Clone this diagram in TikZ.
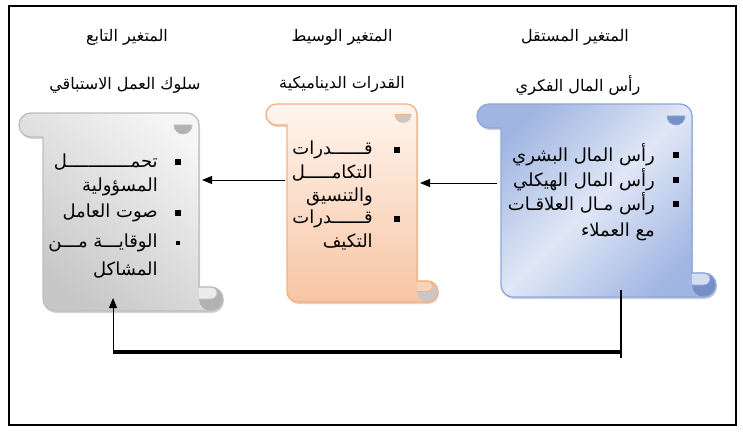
\documentclass[tikz,border=0pt]{standalone}
\usepackage{fontspec}
\usepackage{tikz}
\usetikzlibrary{arrows.meta}
\newfontfamily\arabicfont[Script=Arabic]{DejaVu Sans}
\TeXXeTstate=1

\definecolor{blline}{RGB}{143,168,218}
\definecolor{blcurl}{RGB}{118,143,198}
\definecolor{blnotch}{RGB}{212,222,242}
\definecolor{bldark}{RGB}{160,181,226}
\definecolor{bllight}{RGB}{224,231,246}
\definecolor{orline}{RGB}{244,177,131}
\definecolor{orcurl}{RGB}{200,200,200}
\definecolor{ornotch}{RGB}{248,211,185}
\definecolor{ortop}{RGB}{255,245,239}
\definecolor{orbot}{RGB}{247,197,163}
\definecolor{grline}{RGB}{190,190,190}
\definecolor{grcurl}{RGB}{178,178,178}
\definecolor{grnotch}{RGB}{236,236,236}
\definecolor{grdark}{RGB}{198,198,198}
\definecolor{grlight}{RGB}{246,246,246}

\tikzset{
  bl shade/.style={top color=bldark, bottom color=bldark, middle color=bllight, shading angle=45},
  or shade/.style={top color=ortop, bottom color=orbot},
  gr shade/.style={top color=grlight, bottom color=grdark, shading angle=-40},
  headtext/.style={inner sep=0pt, font=\arabicfont\fontsize{12}{14}\selectfont},
  itemtext/.style={inner sep=0pt, anchor=east, font=\arabicfont\fontsize{13.5}{16}\selectfont},
  bulletsq/.style={fill=black, inner sep=0pt, minimum size=4.5pt},
  flowline/.style={line width=0.75pt, -{Triangle[length=7.5pt,width=6pt]}},
}

% outline of one scroll: L, T, R, B, roll size
\newcommand{\scrollpath}{({\scL+\scH},\scT) -- ({\scR-\scS-\scH},\scT) arc (-90:0:\scH)
  -- ({\scR-\scS},{\scB-\scS}) -- ({\scR-\scH},{\scB-\scS}) arc (-90:90:\scH)
  -- ({\scL+\scS+\scH},\scB) arc (90:180:\scH) -- ({\scL+\scS},{\scT+\scS})
  -- ({\scL+\scH},{\scT+\scS}) arc (90:270:\scH) -- cycle}

\newcommand{\drawscroll}[6]{%
  \pgfmathsetmacro\scL{#1}\pgfmathsetmacro\scT{#2}%
  \pgfmathsetmacro\scR{#3}\pgfmathsetmacro\scB{#4}%
  \pgfmathsetmacro\scS{#5}\pgfmathsetmacro\scH{#5/2}%
  % shadow
  \fill[#6line!70!black, opacity=0.35, shift={(1,2)}] \scrollpath;
  % body
  \path[#6 shade] \scrollpath;
  % top curl
  \fill[#6curl, draw=#6line, line width=0.6pt] ({\scR-\scS-\scH-\scH/3-0.75*\scH},{\scT+\scH}) arc (180:0:{0.75*\scH}) -- cycle;
  % bottom curl
  \fill[#6curl] ({\scR-\scH},{\scB-\scH}) circle (\scH);
  \fill[#6notch, draw=#6line, line width=0.6pt] ({\scR-\scS},{\scB-\scS}) -- ({\scR-\scH},{\scB-\scS}) arc (-90:90:{\scH/2}) -- ({\scR-\scS},{\scB-\scH});
  \draw[#6line, line width=1pt] \scrollpath;
}

\begin{document}
\begin{tikzpicture}[x=0.75pt,y=0.75pt,yscale=-1,xscale=1]
\useasboundingbox (0,0) rectangle (743,435);

%Shape: Rectangle (frame)
\draw[line width=1.1pt] (9,6) rectangle (736,425);

%Shape: Scrolls
\drawscroll{477}{104}{716}{297}{24}{bl}
\drawscroll{266}{104}{438}{302}{21}{or}
\drawscroll{19}{113}{223}{311}{24}{gr}

%Text: headings
\node[headtext] (indep) at (575,37) {\beginR المتغير المستقل\endR};
\node[headtext] (indepname) at (578,85) {\beginR رأس المال الفكري\endR};
\node[headtext] (med) at (342,37) {\beginR المتغير الوسيط\endR};
\node[headtext] (medname) at (342,84) {\beginR القدرات الديناميكية\endR};
\node[headtext] (dep) at (127,37) {\beginR المتغير التابع\endR};
\node[headtext] (depname) at (125,85) {\beginR سلوك العمل الاستباقي\endR};

%Text: independent items
\node[bulletsq] (blb1) at (676,155) {};
\node[bulletsq] (blb2) at (676,180) {};
\node[bulletsq] (blb3) at (676,204) {};
\node[itemtext] (bl1) at (655,155) {\beginR رأس المال البشري\endR};
\node[itemtext] (bl2) at (655,180) {\beginR رأس المال الهيكلي\endR};
\node[itemtext] (bl3) at (655,204) {\beginR رأس مـال العلاقـات\endR};
\node[itemtext] (bl4) at (655,232) {\beginR مع العملاء\endR};

%Text: mediator items
\node[bulletsq] (orb1) at (397,150) {};
\node[bulletsq] (orb2) at (397,219) {};
\node[itemtext] (or1) at (373,150) {\beginR قــــــدرات\endR};
\node[itemtext] (or2) at (373,173) {\beginR التكامـــــل\endR};
\node[itemtext] (or3) at (373,197) {\beginR والتنسيق\endR};
\node[itemtext] (or4) at (373,219) {\beginR قــــــدرات\endR};
\node[itemtext] (or5) at (373,242) {\beginR التكيف\endR};

%Text: dependent items
\node[bulletsq] (grb1) at (178,162) {};
\node[bulletsq] (grb2) at (178,213) {};
\node[bulletsq, minimum size=3.5pt] (grb3) at (178,243) {};
\node[itemtext] (gr1) at (158,162) {\beginR تحمــــــــــــل\endR};
\node[itemtext] (gr2) at (158,187) {\beginR المسؤولية\endR};
\node[itemtext] (gr3) at (158,213) {\beginR صوت العامل\endR};
\node[itemtext] (gr4) at (158,243) {\beginR الوقايـــة مـــن\endR};
\node[itemtext] (gr5) at (158,270) {\beginR المشاكل\endR};

%Straight Lines: arrows between scrolls
\coordinate (blout) at (497,183);
\coordinate (orin) at (420,183);
\coordinate (orout) at (285,180);
\coordinate (grin) at (202,180);
\draw[flowline] (blout) -- (orin);
\draw[flowline] (orout) -- (grin);

%Straight Lines: return loop
\coordinate (loopA) at (621,290);
\coordinate (loopB) at (621,358);
\coordinate (loopC) at (621,352);
\coordinate (loopD) at (113,352);
\coordinate (loopE) at (113,298);
\draw[line width=0.8pt] (loopA) -- (loopB);
\draw[line width=2pt, black!35, shift={(0,3)}] (loopC) -- (loopD);
\draw[line width=2.6pt] (loopC) -- (loopD);
\draw[flowline] (loopD) -- (loopE);
\end{tikzpicture}
\end{document}
